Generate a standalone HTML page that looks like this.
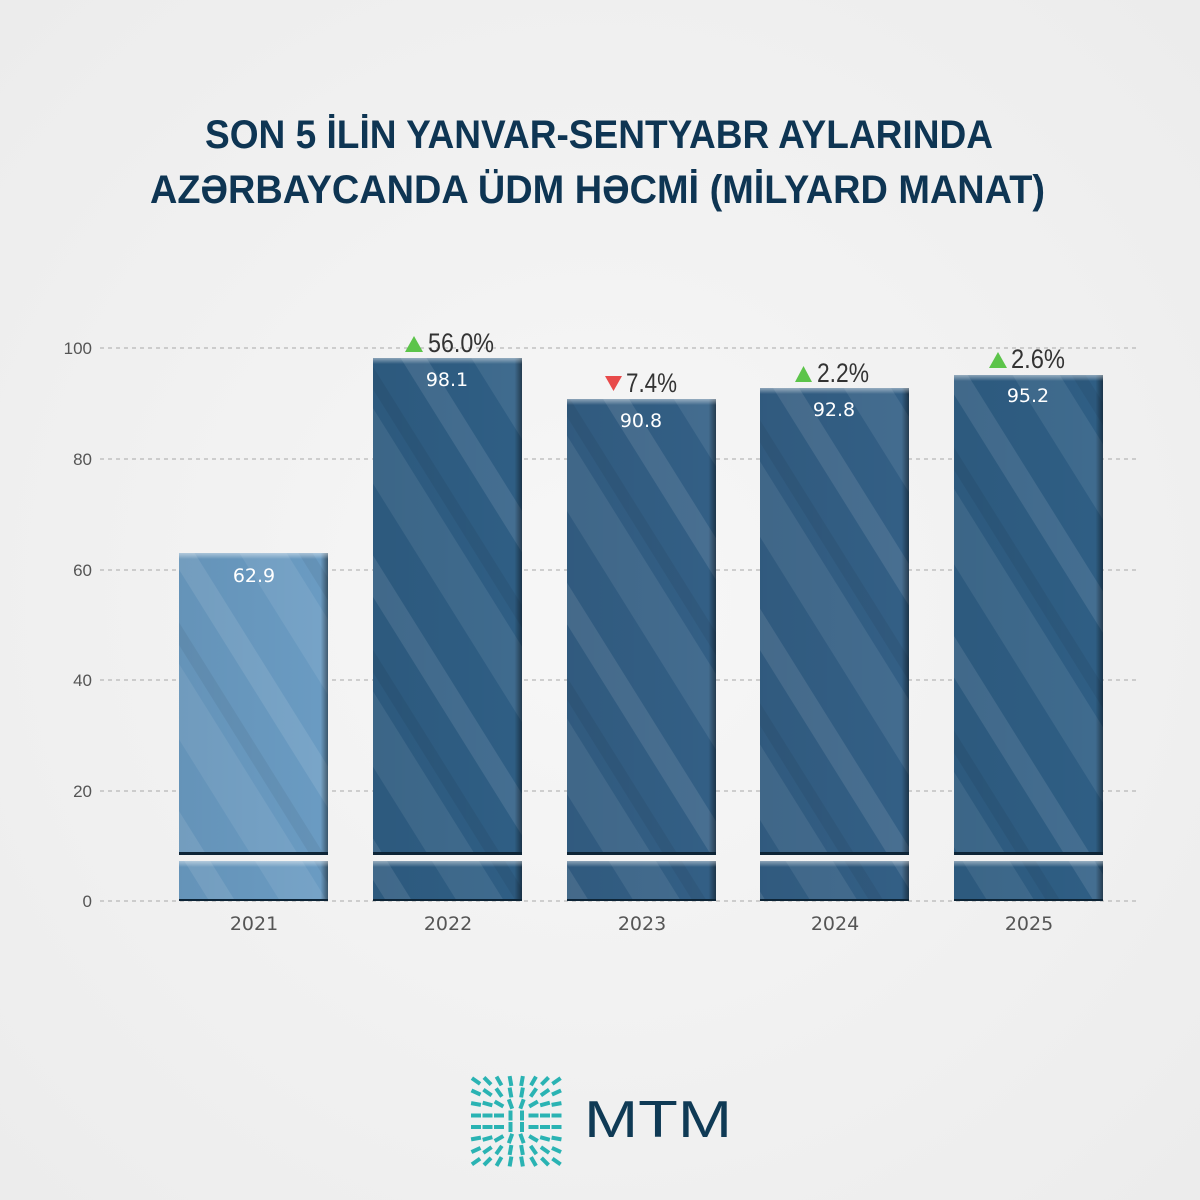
<!DOCTYPE html>
<html><head><meta charset="utf-8"><style>
html,body{margin:0;padding:0;background:#f1f1f1;}
svg{display:block}
</style></head><body>
<svg width="1200" height="1200" viewBox="0 0 1200 1200" xmlns="http://www.w3.org/2000/svg">
<defs>
<pattern id="stripes" patternUnits="userSpaceOnUse" width="150" height="150" patternTransform="rotate(-32)">
<rect x="0" y="0" width="22" height="150" fill="#ffffff" opacity="0.10"/>
<rect x="60" y="0" width="40" height="150" fill="#ffffff" opacity="0.08"/>
<rect x="110" y="0" width="12" height="150" fill="#000000" opacity="0.06"/>
</pattern>
<linearGradient id="edge" x1="0" x2="1" y1="0" y2="0">
<stop offset="0" stop-color="#000" stop-opacity="0.05"/>
<stop offset="0.95" stop-color="#000" stop-opacity="0"/>
<stop offset="1" stop-color="#000" stop-opacity="0.45"/>
</linearGradient>
<linearGradient id="top" x1="0" x2="0" y1="0" y2="1">
<stop offset="0" stop-color="#fff" stop-opacity="0.45"/>
<stop offset="1" stop-color="#fff" stop-opacity="0"/>
</linearGradient>
<radialGradient id="bg" cx="0.5" cy="0.5" r="0.7">
<stop offset="0" stop-color="#f7f7f7"/><stop offset="1" stop-color="#ececec"/>
</radialGradient>
</defs>
<rect width="1200" height="1200" fill="url(#bg)"/>

<g font-family="Liberation Sans, sans-serif" font-weight="bold" fill="#0e3553" font-size="40">
<text x="205" y="148" textLength="788" lengthAdjust="spacingAndGlyphs">SON 5 İLİN YANVAR-SENTYABR AYLARINDA</text>
<text x="150" y="203" textLength="895" lengthAdjust="spacingAndGlyphs">AZƏRBAYCANDA ÜDM HƏCMİ (MİLYARD MANAT)</text>
</g>

<g stroke="#a8a8a8" stroke-width="1" stroke-dasharray="4,4">
<line x1="100" y1="348" x2="1137" y2="348"/>
<line x1="100" y1="459" x2="1137" y2="459"/>
<line x1="100" y1="570" x2="1137" y2="570"/>
<line x1="100" y1="680" x2="1137" y2="680"/>
<line x1="100" y1="791" x2="1137" y2="791"/>
<line x1="100" y1="901" x2="1137" y2="901"/>
</g>
<g font-family="Liberation Sans, sans-serif" font-size="17" fill="#555" text-anchor="end">
<text x="92" y="354">100</text><text x="92" y="465">80</text><text x="92" y="576">60</text>
<text x="92" y="686">40</text><text x="92" y="797">20</text><text x="92" y="907">0</text>
</g>

<g>
<rect x="179" y="553" width="149" height="302" fill="#6a9bc2"/><rect x="179" y="861" width="149" height="40" fill="#6a9bc2"/>
<rect x="373" y="358" width="149" height="497" fill="#2f5e84"/><rect x="373" y="861" width="149" height="40" fill="#2f5e84"/>
<rect x="567" y="399" width="149" height="456" fill="#335f85"/><rect x="567" y="861" width="149" height="40" fill="#335f85"/>
<rect x="760" y="388" width="149" height="467" fill="#335f85"/><rect x="760" y="861" width="149" height="40" fill="#335f85"/>
<rect x="954" y="375" width="149" height="480" fill="#2f5e84"/><rect x="954" y="861" width="149" height="40" fill="#2f5e84"/>
</g>
<g fill="url(#stripes)">
<rect x="179" y="553" width="149" height="302"/><rect x="179" y="861" width="149" height="40"/>
<rect x="373" y="358" width="149" height="497"/><rect x="373" y="861" width="149" height="40"/>
<rect x="567" y="399" width="149" height="456"/><rect x="567" y="861" width="149" height="40"/>
<rect x="760" y="388" width="149" height="467"/><rect x="760" y="861" width="149" height="40"/>
<rect x="954" y="375" width="149" height="480"/><rect x="954" y="861" width="149" height="40"/>
</g>
<g fill="url(#edge)">
<rect x="179" y="553" width="149" height="302"/><rect x="179" y="861" width="149" height="40"/>
<rect x="373" y="358" width="149" height="497"/><rect x="373" y="861" width="149" height="40"/>
<rect x="567" y="399" width="149" height="456"/><rect x="567" y="861" width="149" height="40"/>
<rect x="760" y="388" width="149" height="467"/><rect x="760" y="861" width="149" height="40"/>
<rect x="954" y="375" width="149" height="480"/><rect x="954" y="861" width="149" height="40"/>
</g>
<g fill="url(#top)">
<rect x="179" y="553" width="149" height="6"/><rect x="179" y="861" width="149" height="6"/>
<rect x="373" y="358" width="149" height="6"/><rect x="373" y="861" width="149" height="6"/>
<rect x="567" y="399" width="149" height="6"/><rect x="567" y="861" width="149" height="6"/>
<rect x="760" y="388" width="149" height="6"/><rect x="760" y="861" width="149" height="6"/>
<rect x="954" y="375" width="149" height="6"/><rect x="954" y="861" width="149" height="6"/>
</g>
<g fill="#0d2436">
<rect x="179" y="852" width="149" height="3"/><rect x="179" y="899" width="149" height="2"/>
<rect x="373" y="852" width="149" height="3"/><rect x="373" y="899" width="149" height="2"/>
<rect x="567" y="852" width="149" height="3"/><rect x="567" y="899" width="149" height="2"/>
<rect x="760" y="852" width="149" height="3"/><rect x="760" y="899" width="149" height="2"/>
<rect x="954" y="852" width="149" height="3"/><rect x="954" y="899" width="149" height="2"/>
</g>

<g font-family="DejaVu Sans, sans-serif" font-size="19" fill="#fff" text-anchor="middle">
<text x="254" y="582">62.9</text>
<text x="447" y="386">98.1</text>
<text x="641" y="427">90.8</text>
<text x="834" y="416">92.8</text>
<text x="1028" y="402">95.2</text>
</g>

<g font-family="DejaVu Sans, sans-serif" font-size="19" fill="#555" text-anchor="middle">
<text x="254" y="930">2021</text><text x="448" y="930">2022</text><text x="642" y="930">2023</text>
<text x="835" y="930">2024</text><text x="1029" y="930">2025</text>
</g>

<g font-family="Liberation Sans, sans-serif" font-size="27" fill="#333">
<polygon points="405,352 423,352 414,336" fill="#5cc44a"/>
<text x="428" y="352" textLength="66" lengthAdjust="spacingAndGlyphs">56.0%</text>
<polygon points="605,376 622,376 613.5,391" fill="#e84a4a"/>
<text x="626" y="392" textLength="51" lengthAdjust="spacingAndGlyphs">7.4%</text>
<polygon points="795,382 812,382 803.5,366" fill="#5cc44a"/>
<text x="817" y="382" textLength="52" lengthAdjust="spacingAndGlyphs">2.2%</text>
<polygon points="989,368 1007,368 998,352" fill="#5cc44a"/>
<text x="1011" y="368" textLength="54" lengthAdjust="spacingAndGlyphs">2.6%</text>
</g>

<g fill="#2ab3b3" transform="translate(476,1081)">
<rect x="-5" y="-2" width="10" height="4" transform="translate(0,0) rotate(35)"/>
<rect x="-5" y="-2" width="10" height="4" transform="translate(11.5,0) rotate(45)"/>
<rect x="-5" y="-2" width="10" height="4" transform="translate(23,0) rotate(60)"/>
<rect x="-5" y="-2" width="10" height="4" transform="translate(34.5,0) rotate(80)"/>
<rect x="-5" y="-2" width="10" height="4" transform="translate(46,0) rotate(100)"/>
<rect x="-5" y="-2" width="10" height="4" transform="translate(57.5,0) rotate(120)"/>
<rect x="-5" y="-2" width="10" height="4" transform="translate(69,0) rotate(135)"/>
<rect x="-5" y="-2" width="10" height="4" transform="translate(80.5,0) rotate(145)"/>
<rect x="-5" y="-2" width="10" height="4" transform="translate(0,11.5) rotate(25)"/>
<rect x="-5" y="-2" width="10" height="4" transform="translate(11.5,11.5) rotate(35)"/>
<rect x="-5" y="-2" width="10" height="4" transform="translate(23,11.5) rotate(55)"/>
<rect x="-5" y="-2" width="10" height="4" transform="translate(34.5,11.5) rotate(80)"/>
<rect x="-5" y="-2" width="10" height="4" transform="translate(46,11.5) rotate(100)"/>
<rect x="-5" y="-2" width="10" height="4" transform="translate(57.5,11.5) rotate(125)"/>
<rect x="-5" y="-2" width="10" height="4" transform="translate(69,11.5) rotate(145)"/>
<rect x="-5" y="-2" width="10" height="4" transform="translate(80.5,11.5) rotate(155)"/>
<rect x="-5" y="-2" width="10" height="4" transform="translate(0,23) rotate(10)"/>
<rect x="-5" y="-2" width="10" height="4" transform="translate(11.5,23) rotate(15)"/>
<rect x="-5" y="-2" width="10" height="4" transform="translate(23,23) rotate(30)"/>
<rect x="-5" y="-2" width="10" height="4" transform="translate(34.5,23) rotate(70)"/>
<rect x="-5" y="-2" width="10" height="4" transform="translate(46,23) rotate(110)"/>
<rect x="-5" y="-2" width="10" height="4" transform="translate(57.5,23) rotate(150)"/>
<rect x="-5" y="-2" width="10" height="4" transform="translate(69,23) rotate(165)"/>
<rect x="-5" y="-2" width="10" height="4" transform="translate(80.5,23) rotate(170)"/>
<rect x="-5" y="-2" width="10" height="4" transform="translate(0,34.5)"/>
<rect x="-5" y="-2" width="10" height="4" transform="translate(11.5,34.5)"/>
<rect x="-5" y="-2" width="10" height="4" transform="translate(23,34.5)"/>
<rect x="-5" y="-2" width="10" height="4" transform="translate(34.5,34.5) rotate(90)"/>
<rect x="-5" y="-2" width="10" height="4" transform="translate(46,34.5) rotate(90)"/>
<rect x="-5" y="-2" width="10" height="4" transform="translate(57.5,34.5)"/>
<rect x="-5" y="-2" width="10" height="4" transform="translate(69,34.5)"/>
<rect x="-5" y="-2" width="10" height="4" transform="translate(80.5,34.5)"/>
<rect x="-5" y="-2" width="10" height="4" transform="translate(0,46)"/>
<rect x="-5" y="-2" width="10" height="4" transform="translate(11.5,46)"/>
<rect x="-5" y="-2" width="10" height="4" transform="translate(23,46)"/>
<rect x="-5" y="-2" width="10" height="4" transform="translate(34.5,46) rotate(90)"/>
<rect x="-5" y="-2" width="10" height="4" transform="translate(46,46) rotate(90)"/>
<rect x="-5" y="-2" width="10" height="4" transform="translate(57.5,46)"/>
<rect x="-5" y="-2" width="10" height="4" transform="translate(69,46)"/>
<rect x="-5" y="-2" width="10" height="4" transform="translate(80.5,46)"/>
<rect x="-5" y="-2" width="10" height="4" transform="translate(0,57.5) rotate(-10)"/>
<rect x="-5" y="-2" width="10" height="4" transform="translate(11.5,57.5) rotate(-15)"/>
<rect x="-5" y="-2" width="10" height="4" transform="translate(23,57.5) rotate(-30)"/>
<rect x="-5" y="-2" width="10" height="4" transform="translate(34.5,57.5) rotate(-70)"/>
<rect x="-5" y="-2" width="10" height="4" transform="translate(46,57.5) rotate(-110)"/>
<rect x="-5" y="-2" width="10" height="4" transform="translate(57.5,57.5) rotate(-150)"/>
<rect x="-5" y="-2" width="10" height="4" transform="translate(69,57.5) rotate(-165)"/>
<rect x="-5" y="-2" width="10" height="4" transform="translate(80.5,57.5) rotate(-170)"/>
<rect x="-5" y="-2" width="10" height="4" transform="translate(0,69) rotate(-25)"/>
<rect x="-5" y="-2" width="10" height="4" transform="translate(11.5,69) rotate(-35)"/>
<rect x="-5" y="-2" width="10" height="4" transform="translate(23,69) rotate(-55)"/>
<rect x="-5" y="-2" width="10" height="4" transform="translate(34.5,69) rotate(-80)"/>
<rect x="-5" y="-2" width="10" height="4" transform="translate(46,69) rotate(-100)"/>
<rect x="-5" y="-2" width="10" height="4" transform="translate(57.5,69) rotate(-125)"/>
<rect x="-5" y="-2" width="10" height="4" transform="translate(69,69) rotate(-145)"/>
<rect x="-5" y="-2" width="10" height="4" transform="translate(80.5,69) rotate(-155)"/>
<rect x="-5" y="-2" width="10" height="4" transform="translate(0,80.5) rotate(-35)"/>
<rect x="-5" y="-2" width="10" height="4" transform="translate(11.5,80.5) rotate(-45)"/>
<rect x="-5" y="-2" width="10" height="4" transform="translate(23,80.5) rotate(-60)"/>
<rect x="-5" y="-2" width="10" height="4" transform="translate(34.5,80.5) rotate(-80)"/>
<rect x="-5" y="-2" width="10" height="4" transform="translate(46,80.5) rotate(-100)"/>
<rect x="-5" y="-2" width="10" height="4" transform="translate(57.5,80.5) rotate(-120)"/>
<rect x="-5" y="-2" width="10" height="4" transform="translate(69,80.5) rotate(-135)"/>
<rect x="-5" y="-2" width="10" height="4" transform="translate(80.5,80.5) rotate(-145)"/>
</g>
<text x="584" y="1137" font-family="Liberation Sans, sans-serif" font-size="52" fill="#0f3a55" textLength="148" lengthAdjust="spacingAndGlyphs">MTM</text>
</svg>
</body></html>
